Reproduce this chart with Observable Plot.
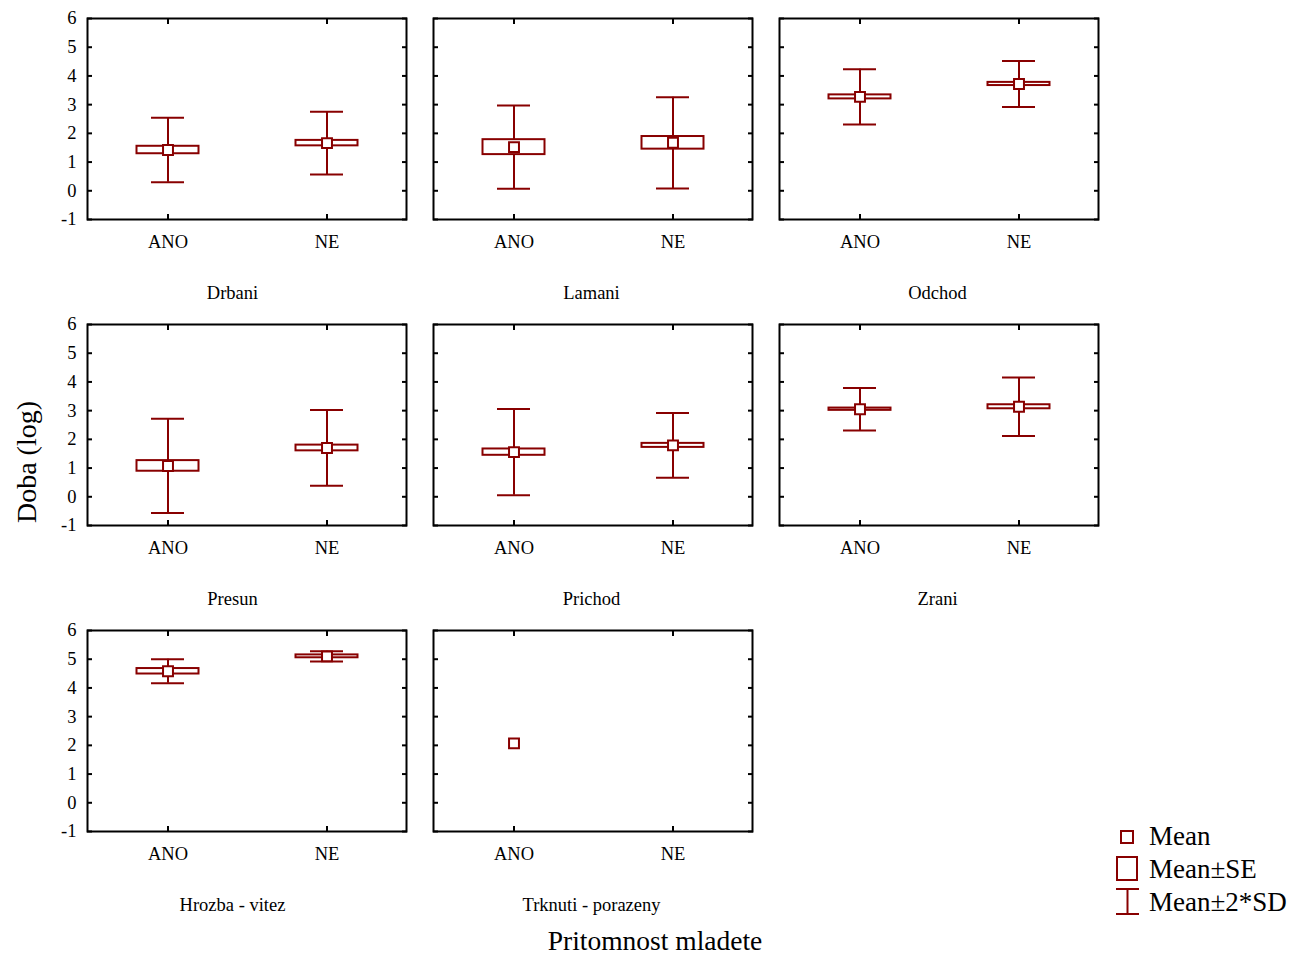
<!DOCTYPE html>
<html>
<head>
<meta charset="utf-8">
<script src="https://cdn.jsdelivr.net/npm/d3@7"></script>
<script src="https://cdn.jsdelivr.net/npm/@observablehq/plot@0.6"></script>
<style>
  html, body { margin: 0; padding: 0; background: #fff; }
  #wrap { position: relative; width: 1294px; height: 956px; font-family: "Liberation Serif", "Times New Roman", serif; color: #000; }
  #wrap > svg.chart { position: absolute; left: 0; top: 0; }
  .ylab { position: absolute; left: 27px; top: 462px; transform: translate(-50%, -50%) rotate(-90deg); font-size: 28px; white-space: nowrap; }
  .xlab { position: absolute; left: 655px; top: 941px; transform: translate(-50%, -50%); font-size: 27.5px; white-space: nowrap; }
  #wrap > svg.legend { position: absolute; left: 1110px; top: 820px; }
</style>
</head>
<body>
<div id="wrap">
  <div class="ylab">Doba (log)</div>
  <div class="xlab">Pritomnost mladete</div>
  <svg class="legend" width="184" height="100" font-family="Liberation Serif, Times New Roman, serif" font-size="27">
    <g fill="none" stroke="#880000" stroke-width="2">
      <rect x="11" y="11" width="12" height="12"></rect>
      <rect x="7" y="37" width="20" height="23"></rect>
      <line x1="6" y1="69" x2="29" y2="69"></line>
      <line x1="17.5" y1="69" x2="17.5" y2="94"></line>
      <line x1="6" y1="94" x2="29" y2="94"></line>
    </g>
    <text x="39" y="25">Mean</text>
    <text x="39" y="58">Mean±SE</text>
    <text x="39" y="91">Mean±2*SD</text>
  </svg>
</div>
<script>
// Behaviour categories, one panel each
const panels = ["Drbani", "Lamani", "Odchod", "Presun", "Prichod", "Zrani", "Hrozba - vitez", "Trknuti - porazeny"];
// Presence of the young
const groups = ["ANO", "NE"];

// Mean, standard error and standard deviation of log duration
const meanAno = [1.42, 1.52, 3.27, 1.075, 1.555, 3.05, 4.58, 2.07];
const meanNe  = [1.66, 1.67, 3.72, 1.70, 1.79, 3.135, 5.10, null];
const seAno   = [0.13, 0.26, 0.07, 0.185, 0.11, 0.04, 0.095, null];
const seNe    = [0.095, 0.22, 0.055, 0.10, 0.07, 0.07, 0.05, null];
const sdAno   = [0.56, 0.725, 0.48, 0.82, 0.75, 0.37, 0.21, null];
const sdNe    = [0.545, 0.795, 0.40, 0.66, 0.565, 0.51, 0.09, null];

const yTicks = [-1, 0, 1, 2, 3, 4, 5, 6];

const color = "#880000";

// Long table: one row per panel and group
const rows = [];
panels.forEach((panel, i) => {
  const stats = {
    ANO: [meanAno[i], seAno[i], sdAno[i]],
    NE: [meanNe[i], seNe[i], sdNe[i]]
  };
  for (const group of groups) {
    const [mean, se, sd] = stats[group];
    rows.push({panel, group, col: i % 3, row: Math.floor(i / 3), mean, se, sd});
  }
});
const withMean = rows.filter(d => d.mean != null);
const withSe = rows.filter(d => d.se != null);
const withSd = rows.filter(d => d.sd != null);
const titles = panels.map((panel, i) => ({panel, col: i % 3, row: Math.floor(i / 3)}));

const facet = {fx: "col", fy: "row"};

const chart = Plot.plot({
  className: "chart",
  width: 1294,
  height: 956,
  marginLeft: 86.5,
  marginRight: 196,
  marginTop: 17,
  marginBottom: 123,
  style: {fontFamily: "Liberation Serif, Times New Roman, serif", fontSize: "18.5px", color: "#000", background: "transparent", overflow: "visible"},
  fx: {axis: null, domain: [0, 1, 2], paddingInner: 0.0794, paddingOuter: 0},
  fy: {axis: null, domain: [0, 1, 2], paddingInner: 0.342, paddingOuter: 0},
  x: {type: "band", domain: groups, paddingInner: 0.6, paddingOuter: 0.3},
  y: {domain: [-1, 6]},
  marks: [
    // axis labels and inward ticks
    Plot.axisY({anchor: "left", ticks: yTicks, tickSize: 0, tickPadding: 11, tickFormat: d => String(d), label: null}),
    Plot.axisY({anchor: "left", ticks: yTicks, tickSize: -5, tickFormat: () => "", label: null, facetAnchor: null, strokeWidth: 2}),
    Plot.axisY({anchor: "right", ticks: yTicks, tickSize: -5, tickFormat: () => "", label: null, facetAnchor: null, strokeWidth: 2}),
    Plot.axisX({anchor: "bottom", tickSize: 0, tickPadding: 15, label: null, facetAnchor: null}),
    Plot.axisX({anchor: "bottom", tickSize: -5, tickFormat: () => "", label: null, facetAnchor: null, strokeWidth: 2}),
    Plot.axisX({anchor: "top", tickSize: -5, tickFormat: () => "", label: null, facetAnchor: null, strokeWidth: 2}),
    Plot.frame({stroke: "#000", strokeWidth: 2}),
    // panel titles below each frame
    Plot.text(titles.filter(d => d.col === 0), {...facet, text: "panel", frameAnchor: "bottom", lineAnchor: "middle", dy: 74, dx: -14.5}),
    Plot.text(titles.filter(d => d.col !== 0), {...facet, text: "panel", frameAnchor: "bottom", lineAnchor: "middle", dy: 74, dx: -1.5}),
    // whiskers: mean ± 2*SD
    Plot.ruleX(withSd, {...facet, x: "group", y1: d => d.mean - 2 * d.sd, y2: d => d.mean + 2 * d.sd, stroke: color, strokeWidth: 2}),
    Plot.tickY(withSd, {...facet, x: "group", y: d => d.mean + 2 * d.sd, stroke: color, strokeWidth: 2, insetLeft: 15.5, insetRight: 15.5}),
    Plot.tickY(withSd, {...facet, x: "group", y: d => d.mean - 2 * d.sd, stroke: color, strokeWidth: 2, insetLeft: 15.5, insetRight: 15.5}),
    // boxes: mean ± SE
    Plot.barY(withSe, {...facet, x: "group", y1: d => d.mean - d.se, y2: d => d.mean + d.se, fill: "white", stroke: color, strokeWidth: 2, insetLeft: 1, insetRight: 1}),
    // mean
    Plot.dot(withMean, {...facet, x: "group", y: "mean", symbol: "square", r: 5.6, fill: "white", stroke: color, strokeWidth: 2})
  ]
});

document.getElementById("wrap").prepend(chart);
</script>
</body>
</html>
